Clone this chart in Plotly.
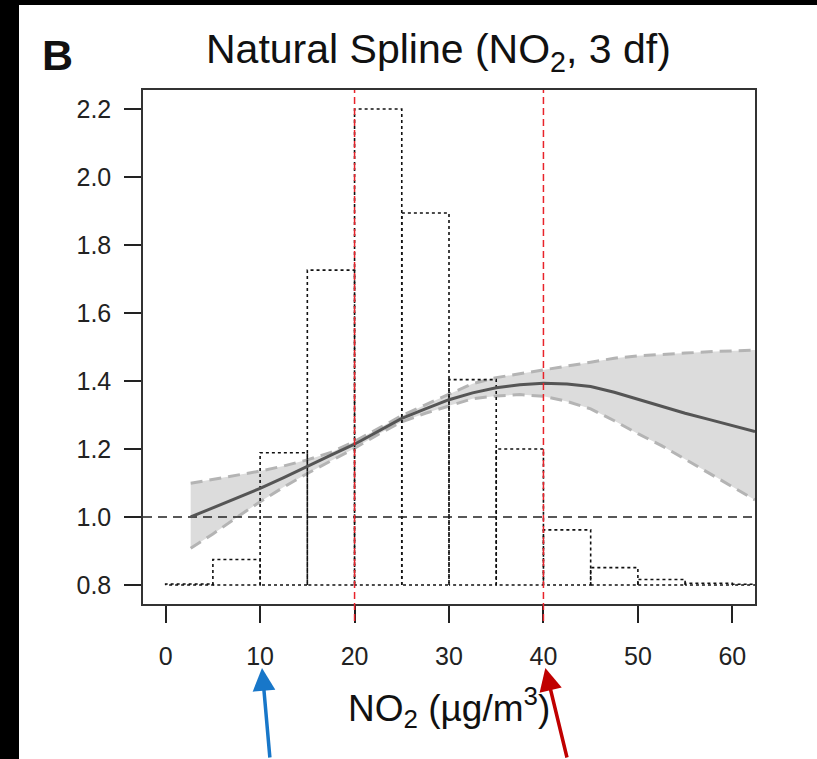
import plotly.graph_objects as go

# ---- data ----
bin_edges = [0, 5, 10, 15, 20, 25, 30, 35, 40, 45, 50, 55, 60, 65]
bin_heights = [0.803, 0.875, 1.189, 1.726, 2.2, 1.894, 1.404, 1.2, 0.962, 0.851, 0.816, 0.805, 0.802]
hist_base = 0.8

curve_x = [2.65, 5, 7.5, 10, 12.5, 15, 17.5, 20, 22.5, 25, 27.5, 30, 32.5, 35, 37.5,
           40, 42.5, 45, 47.5, 50, 52.5, 55, 57.5, 60, 62.4]
curve_fit = [1.0, 1.027, 1.055, 1.084, 1.116, 1.15, 1.182, 1.214, 1.253, 1.29, 1.318, 1.345,
             1.365, 1.38, 1.389, 1.393, 1.391, 1.384, 1.367, 1.346, 1.326, 1.305, 1.287, 1.269, 1.251]
curve_upper = [1.099, 1.11, 1.122, 1.135, 1.15, 1.168, 1.19, 1.222, 1.26, 1.298, 1.33, 1.362,
               1.392, 1.41, 1.422, 1.432, 1.444, 1.455, 1.467, 1.474, 1.479, 1.482, 1.486, 1.489, 1.491]
curve_lower = [0.908, 0.95, 0.998, 1.045, 1.088, 1.128, 1.165, 1.202, 1.243, 1.28, 1.305, 1.327,
               1.348, 1.356, 1.36, 1.355, 1.34, 1.318, 1.283, 1.245, 1.21, 1.17, 1.13, 1.09, 1.05]

x_ticks = [0, 10, 20, 30, 40, 50, 60]
y_ticks = [0.8, 1.0, 1.2, 1.4, 1.6, 1.8, 2.0, 2.2]
ref_lines_x = [20, 40]
null_value = 1.0
arrow_targets = [10, 40]
arrow_colors = ["#1877c9", "#c00000"]

FONT = "Liberation Sans, Arial, Helvetica, sans-serif"

fig = go.Figure()

# CI band
fig.add_trace(go.Scatter(x=curve_x + curve_x[::-1], y=curve_upper + curve_lower[::-1],
                         fill="toself", fillcolor="#dcdcdc", line=dict(width=0),
                         mode="lines", hoverinfo="skip", showlegend=False))
fig.add_trace(go.Scatter(x=curve_x, y=curve_upper, mode="lines",
                         line=dict(color="#b4b4b4", width=3, dash="12px,7px"), showlegend=False))
fig.add_trace(go.Scatter(x=curve_x, y=curve_lower, mode="lines",
                         line=dict(color="#b4b4b4", width=3, dash="12px,7px"), showlegend=False))

# histogram outline (dotted bars)
hx, hy = [], []
for i, h in enumerate(bin_heights):
    a, b = bin_edges[i], bin_edges[i + 1]
    hx += [a, a, b, b, a, None]
    hy += [hist_base, h, h, hist_base, hist_base, None]
fig.add_trace(go.Scatter(x=hx, y=hy, mode="lines", line=dict(color="#111111", width=1.6, dash="dot"),
                         showlegend=False, hoverinfo="skip"))

# null line
fig.add_trace(go.Scatter(x=[-2.4, 62.4], y=[null_value, null_value], mode="lines",
                         line=dict(color="#222222", width=1.6, dash="9px,6px"), showlegend=False))

# fitted curve
fig.add_trace(go.Scatter(x=curve_x, y=curve_fit, mode="lines",
                         line=dict(color="#555555", width=3), showlegend=False))

plot_l, plot_r, plot_t, plot_b = 143, 62, 90, 155
W, H = 817, 759
pw, ph = W - plot_l - plot_r, H - plot_t - plot_b
bottom_px = H - plot_b


def px_x(px):
    return (px - plot_l) / pw


def px_y(py):
    return (bottom_px - py) / ph


shapes = []
for xv in ref_lines_x:
    shapes.append(dict(type="line", xref="x", yref="paper", x0=xv, x1=xv, y0=px_y(621), y1=1,
                       line=dict(color="#e8232a", width=1.5, dash="7px,4px"), layer="above"))
# black borders of the photographed page
shapes.append(dict(type="rect", xref="paper", yref="paper", x0=px_x(-5), x1=px_x(19),
                   y0=px_y(H + 5), y1=px_y(-5), fillcolor="black", line=dict(width=0), layer="below"))
shapes.append(dict(type="rect", xref="paper", yref="paper", x0=px_x(-5), x1=px_x(W + 5),
                   y0=px_y(5), y1=px_y(-5), fillcolor="black", line=dict(width=0), layer="below"))

annotations = [
    dict(text="Natural Spline (NO<sub>2</sub>, 3 df)", xref="paper", yref="paper",
         x=px_x(438), y=px_y(52), xanchor="center", yanchor="middle", showarrow=False,
         font=dict(family=FONT, size=41, color="#111111")),
    dict(text="<b>B</b>", xref="paper", yref="paper", x=px_x(57), y=px_y(55),
         xanchor="center", yanchor="middle", showarrow=False,
         font=dict(family=FONT, size=43, color="#111111")),
    dict(text="NO<sub>2</sub> (µg/m<sup>3</sup>)", xref="paper", yref="paper",
         x=px_x(449), y=px_y(707), xanchor="center", yanchor="middle", showarrow=False,
         font=dict(family=FONT, size=37, color="#111111")),
]
arrow_tail_dx = [8, 22]
for xt, col, dx in zip(arrow_targets, arrow_colors, arrow_tail_dx):
    annotations.append(dict(text="", xref="x", yref="paper", x=xt + 0.2, y=px_y(668),
                            showarrow=True, axref="pixel", ayref="pixel", ax=dx, ay=98,
                            arrowhead=2, arrowsize=1.3, arrowwidth=3.5, arrowcolor=col, standoff=0))

fig.update_layout(
    width=W, height=H,
    margin=dict(l=plot_l, r=plot_r, t=plot_t, b=plot_b, pad=0),
    paper_bgcolor="white", plot_bgcolor="white",
    shapes=shapes, annotations=annotations, showlegend=False,
    font=dict(family=FONT, color="#222222"),
)
fig.update_xaxes(range=[-2.4, 62.4], tickvals=x_ticks, ticktext=[str(v) for v in x_ticks],
                 showgrid=False, zeroline=False, showline=True, mirror=True,
                 linecolor="#333333", linewidth=1.5, ticks="outside", ticklen=17, tickwidth=1.5,
                 tickcolor="#222222", tickfont=dict(size=25, family=FONT, color="#222222"),
                 ticklabelstandoff=12)
fig.update_yaxes(range=[0.744, 2.256], tickvals=y_ticks, ticktext=[f"{v:.1f}" for v in y_ticks],
                 showgrid=False, zeroline=False, showline=True, mirror=True,
                 linecolor="#333333", linewidth=1.5, ticks="outside", ticklen=17, tickwidth=1.5,
                 tickcolor="#222222", tickfont=dict(size=25, family=FONT, color="#222222"),
                 ticklabelstandoff=8)

fig.write_html("out.html", config={"displayModeBar": False},
               post_script="document.body.style.margin='0';document.body.style.padding='0';")
